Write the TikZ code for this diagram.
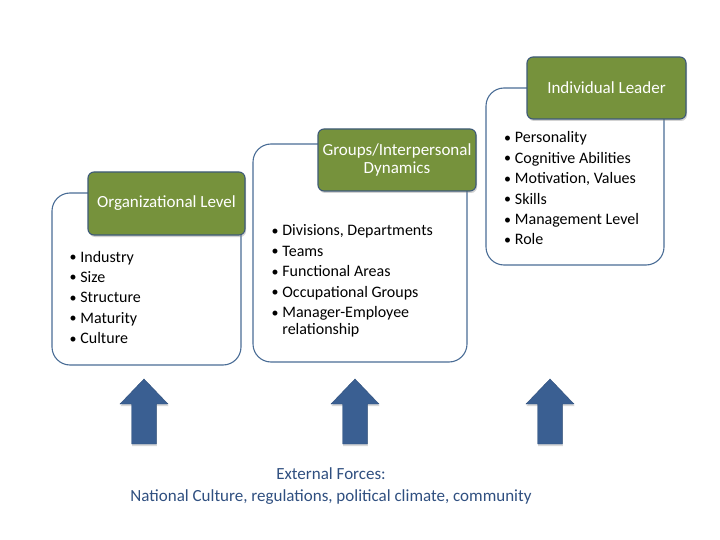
\documentclass[tikz,border=0pt]{standalone}
\usepackage{fontspec}
\setmainfont{Carlito}
\usepackage{tikz}
\usetikzlibrary{positioning, shadows}

\definecolor{boxline}{HTML}{4A6D96}
\definecolor{headgreen}{HTML}{76923C}
\definecolor{headline}{HTML}{3E5A78}
\definecolor{arrowblue}{HTML}{3A5F92}
\definecolor{forcetext}{HTML}{2F4F80}

\newcommand{\dotitem}{\makebox[10.7pt][l]{\raisebox{0.5pt}{\fontsize{14}{14}\selectfont\textbullet}}}

\begin{document}
\begin{tikzpicture}[x=1pt, y=-1pt,
					level/.style={draw=boxline, line width=1.1pt, fill=white,
						rounded corners=18pt, inner sep=0pt},
					header/.style={draw=headline, line width=1.1pt, fill=headgreen,
						rounded corners=6pt, text=white, align=center, inner sep=0pt,
						font=\fontsize{17}{18.4}\selectfont,
						drop shadow={opacity=0.35, shadow xshift=1pt, shadow yshift=-2pt}},
					items/.style={anchor=base west, inner sep=0pt,
						font=\fontsize{16}{16.6}\selectfont},
					upshaft/.style={fill=arrowblue, draw=arrowblue!85!black, line width=0.4pt,
						drop shadow={opacity=0.3, shadow xshift=0.5pt, shadow yshift=-2pt}}]

	\useasboundingbox (0,0) rectangle (720,540);

	% the three levels
	\node[level, minimum width=189, minimum height=172] (org) at (146.5,279) {};
	\node[header, minimum width=157, minimum height=63] (orghead) at (166.5,203.5)
		{Organizational Level};

	\node[level, minimum width=214, minimum height=218] (grp) at (360,253) {};
	\node[header, minimum width=158, minimum height=62] (grphead) at (397,160)
		{Groups/Interpersonal\\Dynamics};

	\node[level, minimum width=178, minimum height=177] (ind) at (575,176.5) {};
	\node[header, minimum width=159, minimum height=62] (indhead) at (606.5,88)
		{Individual Leader};

	% bullet lists
	\node[items] (orglist) at (69.5,262) {\begin{tabular}[t]{@{}l@{}l@{}}
		\dotitem & Industry\\[3.8pt]
		\dotitem & Size\\[3.8pt]
		\dotitem & Structure\\[3.8pt]
		\dotitem & Maturity\\[3.8pt]
		\dotitem & Culture
	\end{tabular}};

	\node[items] (grplist) at (271.5,236) {\begin{tabular}[t]{@{}l@{}l@{}}
		\dotitem & Divisions, Departments\\[3.8pt]
		\dotitem & Teams\\[3.8pt]
		\dotitem & Functional Areas\\[3.8pt]
		\dotitem & Occupational Groups\\[3.8pt]
		\dotitem & Manager-Employee\\
		         & relationship
	\end{tabular}};

	\node[items] (indlist) at (504,143) {\begin{tabular}[t]{@{}l@{}l@{}}
		\dotitem & Personality\\[3.8pt]
		\dotitem & Cognitive Abilities\\[3.8pt]
		\dotitem & Motivation, Values\\[3.8pt]
		\dotitem & Skills\\[3.8pt]
		\dotitem & Management Level\\[3.8pt]
		\dotitem & Role
	\end{tabular}};

	% block arrows
	\foreach \ax in {144, 355, 550}
		\draw[upshaft] (\ax,379) -- (\ax+24,404) -- (\ax+12.3,404) -- (\ax+12.3,444)
			-- (\ax-12.3,444) -- (\ax-12.3,404) -- (\ax-24,404) -- cycle;

	\node[text=forcetext, align=center, font=\fontsize{17}{22.5}\selectfont] (forces)
		at (331,486) {External Forces:\\National Culture, regulations, political climate, community};
\end{tikzpicture}
\end{document}
